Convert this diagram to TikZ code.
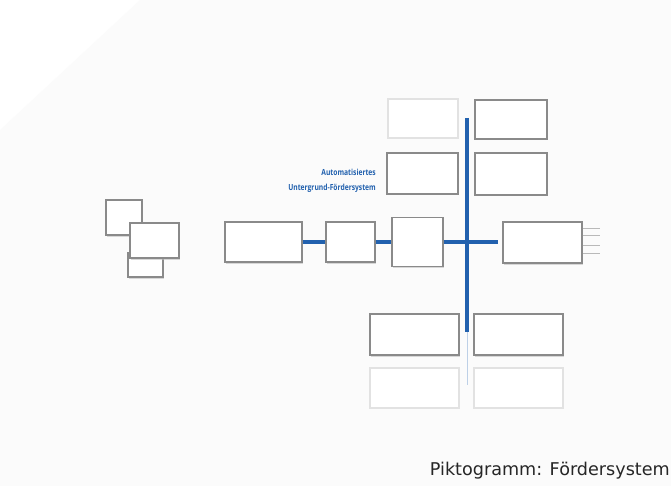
\documentclass[tikz,border=0pt]{standalone}
\usepackage{fontspec}
\setmainfont{DejaVu Sans}
\newfontfamily\titlefont{Open Sans}
\usetikzlibrary{shadows}
\definecolor{flowblue}{HTML}{2261AE}
\definecolor{boxgray}{HTML}{8A8A8A}
\definecolor{faintgray}{HTML}{E2E2E2}
\begin{document}
\begin{tikzpicture}[x=1pt,y=-1pt,
  mbox/.style={draw=boxgray, line width=1.4pt, fill=white,
     drop shadow={shadow xshift=1pt, shadow yshift=-1.5pt, fill=black!25, opacity=0.6}},
  fbox/.style={draw=faintgray, line width=1.2pt, fill=white},
  bus/.style={draw=flowblue, line width=3.2pt},
  thinbus/.style={draw=flowblue!30, line width=1pt},
  tick/.style={draw=boxgray!60, line width=0.8pt}]
\useasboundingbox (0,0) rectangle (671,486);
\fill[white] (0,0) rectangle (671,486);
\fill[black!1.5] (0,130) -- (140,0) -- (671,0) -- (671,486) -- (0,486) -- cycle;
% left cluster
\draw[mbox] (106,200) rectangle (142,235) coordinate (la);
\draw[mbox] (128,253) rectangle (163,277) coordinate (lc);
\draw[mbox] (130,223) rectangle (179,258) coordinate (lb);
% main row
\node[mbox, minimum width=77pt, minimum height=40pt, inner sep=0] (n1) at (263.5,242) {};
\node[mbox, minimum width=49pt, minimum height=40pt, inner sep=0] (n2) at (350.5,242) {};
\node[mbox, minimum width=51pt, minimum height=49pt, inner sep=0] (n3) at (417.5,242) {};
\node[mbox, minimum width=79pt, minimum height=41pt, inner sep=0] (n4) at (542.5,242.5) {};
% top boxes
\node[fbox, minimum width=70pt, minimum height=39pt, inner sep=0] (t1) at (423,118.5) {};
\node[mbox, minimum width=72pt, minimum height=39pt, inner sep=0] (t2) at (511,119.5) {};
\node[mbox, minimum width=71pt, minimum height=41pt, inner sep=0] (t3) at (422.5,173.5) {};
\node[mbox, minimum width=72pt, minimum height=42pt, inner sep=0] (t4) at (511,174) {};
% bottom boxes
\node[mbox, minimum width=89pt, minimum height=41pt, inner sep=0] (b1) at (414.5,334.5) {};
\node[mbox, minimum width=89pt, minimum height=41pt, inner sep=0] (b2) at (518.5,334.5) {};
\node[fbox, minimum width=89pt, minimum height=40pt, inner sep=0] (b3) at (414.5,388) {};
\node[fbox, minimum width=89pt, minimum height=40pt, inner sep=0] (b4) at (518.5,388) {};
% bus lines
\coordinate (vtop) at (467,118);
\coordinate (vbot) at (467,332);
\coordinate (vend) at (467,385);
\coordinate (hend) at (498,242);
\coordinate (hmid) at (467,242);
\draw[thinbus] (vbot) -- (vend);
\draw[bus] (vtop) -- (vbot);
\draw[bus] (n1.east) -- (n2.west);
\draw[bus] (n2.east) -- (n3.west);
\draw[bus] (n3.east) -- (hend);
% ticks at right box
\foreach \yy in {228,235,245,253} \draw[tick] (n4.east |- 0,\yy) -- ++(17,0);
% title
\node[anchor=east, text=flowblue, inner sep=0] (title) at (376,180)
  {\scalebox{0.8}[1]{\titlefont\bfseries\fontsize{8.4}{15}\selectfont
   \begin{tabular}{@{}r@{}}Automatisiertes\\[-0.5pt] Untergrund-Fördersystem\end{tabular}}};
% caption
\node[anchor=base east, font=\fontsize{17.6}{21}\selectfont, inner sep=0, text=black!85] (cap) at (670,475) {Piktogramm: Fördersystem};
\end{tikzpicture}
\end{document}
